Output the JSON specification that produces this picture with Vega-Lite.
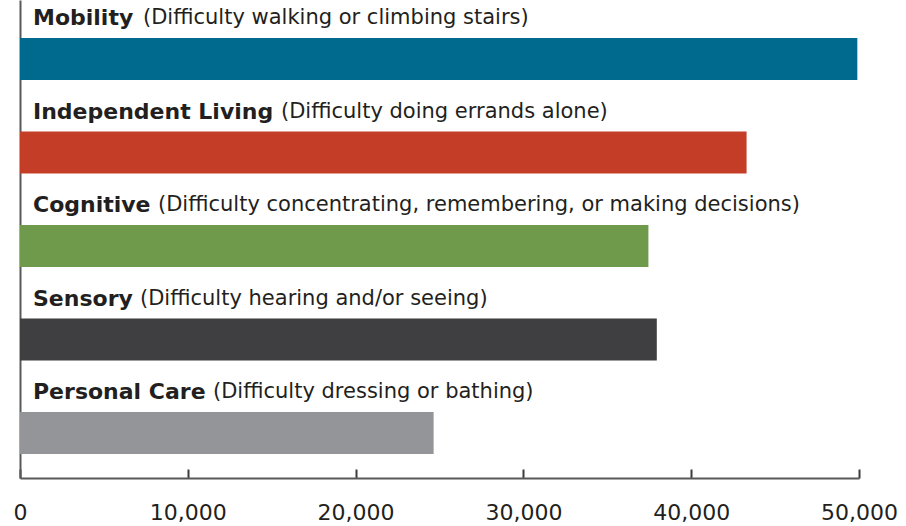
{
  "$schema": "https://vega.github.io/schema/vega-lite/v6.json",
  "width": 839,
  "height": 478,
  "autosize": "none",
  "padding": {"left": 20, "top": 0, "right": 47, "bottom": 48},
  "background": "white",
  "config": {"view": {"stroke": null}},
  "data": {
    "values": [
      {"category": "Mobility", "desc": "(Difficulty walking or climbing stairs)", "value": 49900},
      {"category": "Independent Living", "desc": "(Difficulty doing errands alone)", "value": 43300},
      {"category": "Cognitive", "desc": "(Difficulty concentrating, remembering, or making decisions)", "value": 37450},
      {"category": "Sensory", "desc": "(Difficulty hearing and/or seeing)", "value": 37950},
      {"category": "Personal Care", "desc": "(Difficulty dressing or bathing)", "value": 24650}
    ]
  },
  "encoding": {
    "y": {
      "field": "category",
      "type": "nominal",
      "sort": null,
      "scale": {"paddingInner": 0.551, "paddingOuter": 0.3316, "align": 0.613},
      "axis": {"title": null, "labels": false, "ticks": false, "domain": true, "domainColor": "#58595b", "domainWidth": 2, "grid": false}
    }
  },
  "layer": [
    {
      "mark": {"type": "bar"},
      "encoding": {
        "x": {
          "field": "value",
          "type": "quantitative",
          "scale": {"domain": [0, 50000], "nice": false},
          "axis": {
            "title": null,
            "values": [0, 10000, 20000, 30000, 40000, 50000],
            "format": ",d",
            "grid": false,
            "domainColor": "#58595b",
            "domainWidth": 2,
            "tickColor": "#3a3a3c",
            "tickWidth": 2,
            "tickSize": -9,
            "labelPadding": 33,
            "labelFont": "DejaVu Sans",
            "labelFontSize": 22,
            "labelColor": "#231f20",
            "labelFlush": false
          }
        },
        "color": {
          "field": "category",
          "type": "nominal",
          "legend": null,
          "scale": {
            "domain": ["Mobility", "Independent Living", "Cognitive", "Sensory", "Personal Care"],
            "range": ["#006a8e", "#c43e27", "#6f9a4b", "#3f3f41", "#939598"]
          }
        }
      }
    },
    {
      "mark": {"type": "text", "align": "left", "baseline": "middle", "dx": 13, "dy": -41, "font": "DejaVu Sans", "fontWeight": "bold", "fontSize": 22, "color": "#231f20"},
      "encoding": {"x": {"datum": 0, "type": "quantitative"}, "text": {"field": "category"}}
    },
    {
      "transform": [{"filter": "datum.category === 'Mobility'"}],
      "mark": {"type": "text", "align": "left", "baseline": "middle", "dx": 123, "dy": -41, "font": "DejaVu Sans", "fontSize": 21, "color": "#231f20"},
      "encoding": {"x": {"datum": 0, "type": "quantitative"}, "text": {"field": "desc"}}
    },
    {
      "transform": [{"filter": "datum.category === 'Independent Living'"}],
      "mark": {"type": "text", "align": "left", "baseline": "middle", "dx": 261, "dy": -41, "font": "DejaVu Sans", "fontSize": 21, "color": "#231f20"},
      "encoding": {"x": {"datum": 0, "type": "quantitative"}, "text": {"field": "desc"}}
    },
    {
      "transform": [{"filter": "datum.category === 'Cognitive'"}],
      "mark": {"type": "text", "align": "left", "baseline": "middle", "dx": 138, "dy": -41, "font": "DejaVu Sans", "fontSize": 21, "color": "#231f20"},
      "encoding": {"x": {"datum": 0, "type": "quantitative"}, "text": {"field": "desc"}}
    },
    {
      "transform": [{"filter": "datum.category === 'Sensory'"}],
      "mark": {"type": "text", "align": "left", "baseline": "middle", "dx": 120, "dy": -41, "font": "DejaVu Sans", "fontSize": 21, "color": "#231f20"},
      "encoding": {"x": {"datum": 0, "type": "quantitative"}, "text": {"field": "desc"}}
    },
    {
      "transform": [{"filter": "datum.category === 'Personal Care'"}],
      "mark": {"type": "text", "align": "left", "baseline": "middle", "dx": 193, "dy": -41, "font": "DejaVu Sans", "fontSize": 21, "color": "#231f20"},
      "encoding": {"x": {"datum": 0, "type": "quantitative"}, "text": {"field": "desc"}}
    }
  ]
}
